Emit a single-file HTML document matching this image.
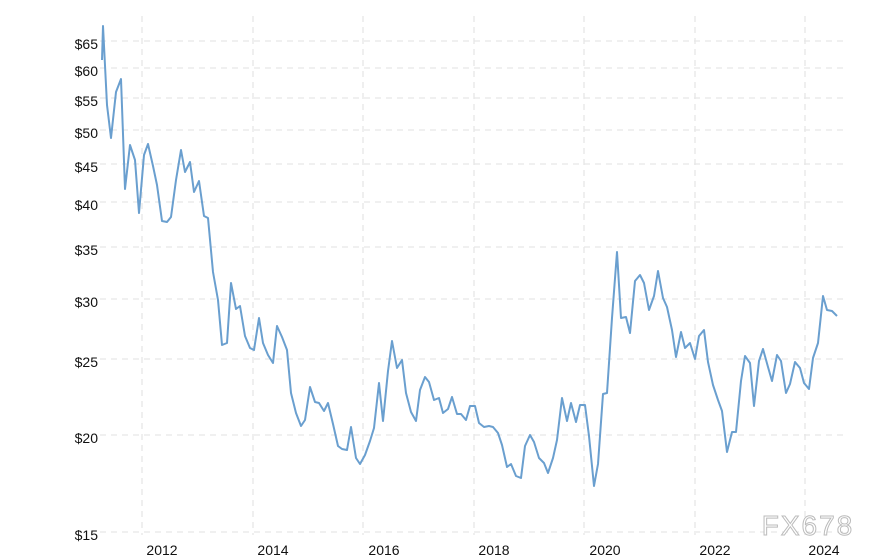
<!DOCTYPE html>
<html><head><meta charset="utf-8"><style>
body{margin:0;background:#fff;}
svg{display:block;font-family:"Liberation Sans","DejaVu Sans",sans-serif;}
</style></head><body>
<svg width="888" height="560" viewBox="0 0 888 560">
<g stroke="#e6e6e6" stroke-width="1.3" stroke-dasharray="6,5" fill="none">
<line x1="100" x2="845" y1="41" y2="41"/><line x1="100" x2="845" y1="68" y2="68"/>
<line x1="100" x2="845" y1="98" y2="98"/><line x1="100" x2="845" y1="130" y2="130"/>
<line x1="100" x2="845" y1="164" y2="164"/><line x1="100" x2="845" y1="202" y2="202"/>
<line x1="100" x2="845" y1="247" y2="247"/><line x1="100" x2="845" y1="299" y2="299"/>
<line x1="100" x2="845" y1="359" y2="359"/><line x1="100" x2="845" y1="435" y2="435"/>
<line x1="100" x2="845" y1="532" y2="532"/>
<line x1="142" x2="142" y1="16" y2="535"/><line x1="253" x2="253" y1="16" y2="535"/>
<line x1="363" x2="363" y1="16" y2="535"/><line x1="474" x2="474" y1="16" y2="535"/>
<line x1="584" x2="584" y1="16" y2="535"/><line x1="695" x2="695" y1="16" y2="535"/>
<line x1="805" x2="805" y1="16" y2="535"/>
</g>
<g font-size="14" fill="#111" text-anchor="end">
<text x="98" y="49">$65</text><text x="98" y="76">$60</text><text x="98" y="106">$55</text>
<text x="98" y="138">$50</text><text x="98" y="172">$45</text><text x="98" y="210">$40</text>
<text x="98" y="255">$35</text><text x="98" y="307">$30</text><text x="98" y="367">$25</text>
<text x="98" y="443">$20</text><text x="98" y="540">$15</text>
</g>
<g font-size="14" fill="#111" text-anchor="middle">
<text x="162" y="555">2012</text><text x="273" y="555">2014</text><text x="384" y="555">2016</text>
<text x="494" y="555">2018</text><text x="605" y="555">2020</text><text x="715" y="555">2022</text>
<text x="824" y="555">2024</text>
</g>
<polyline fill="none" stroke="#6a9fcf" stroke-width="2" stroke-linejoin="round" points="102,60 103,26 107,105 111,138 116,92 121,79 125,189 130,145 135,160 139,213 144,155 148,144 153,166 157,185 162,221 167,222 171,217 176,180 181,150 185,172 190,162 194,192 199,181 204,216 208,218 213,272 218,300 222,345 227,343 231,283 236,309 240,306 245,336 250,348 254,350 259,318 263,343 268,355 273,363 277,326 282,337 287,350 291,393 296,413 301,426 305,420 310,387 315,402 319,403 324,411 328,403 333,424 338,446 342,449 347,450 351,427 356,458 360,464 365,455 370,441 374,428 379,383 383,421 388,371 392,341 397,368 402,360 406,393 411,412 416,421 420,390 425,377 429,382 434,400 439,398 443,413 448,409 452,397 457,414 461,414 466,420 470,406 475,406 479,423 484,427 489,426 493,427 498,433 502,445 507,467 511,464 516,476 521,478 525,446 530,435 534,442 539,458 544,463 548,473 553,458 557,440 562,398 567,421 571,403 576,422 580,405 585,405 589,436 594,486 598,464 603,394 607,393 612,318 617,252 621,318 626,317 630,333 635,281 640,275 644,283 649,310 654,296 658,271 663,298 667,307 672,330 676,357 681,332 685,348 690,343 695,359 699,336 704,330 708,362 713,385 718,400 722,411 727,452 732,432 736,432 741,381 745,356 750,363 754,406 759,361 763,349 768,367 772,381 777,355 781,361 786,393 790,384 795,362 800,368 804,383 809,389 813,358 818,343 823,296 827,310 832,311 837,316"/>
<text x="808" y="535" font-size="28" fill="#ffffff" stroke="#bbbbbb" stroke-width="1" text-anchor="middle" letter-spacing="2">FX678</text>
</svg>
</body></html>
